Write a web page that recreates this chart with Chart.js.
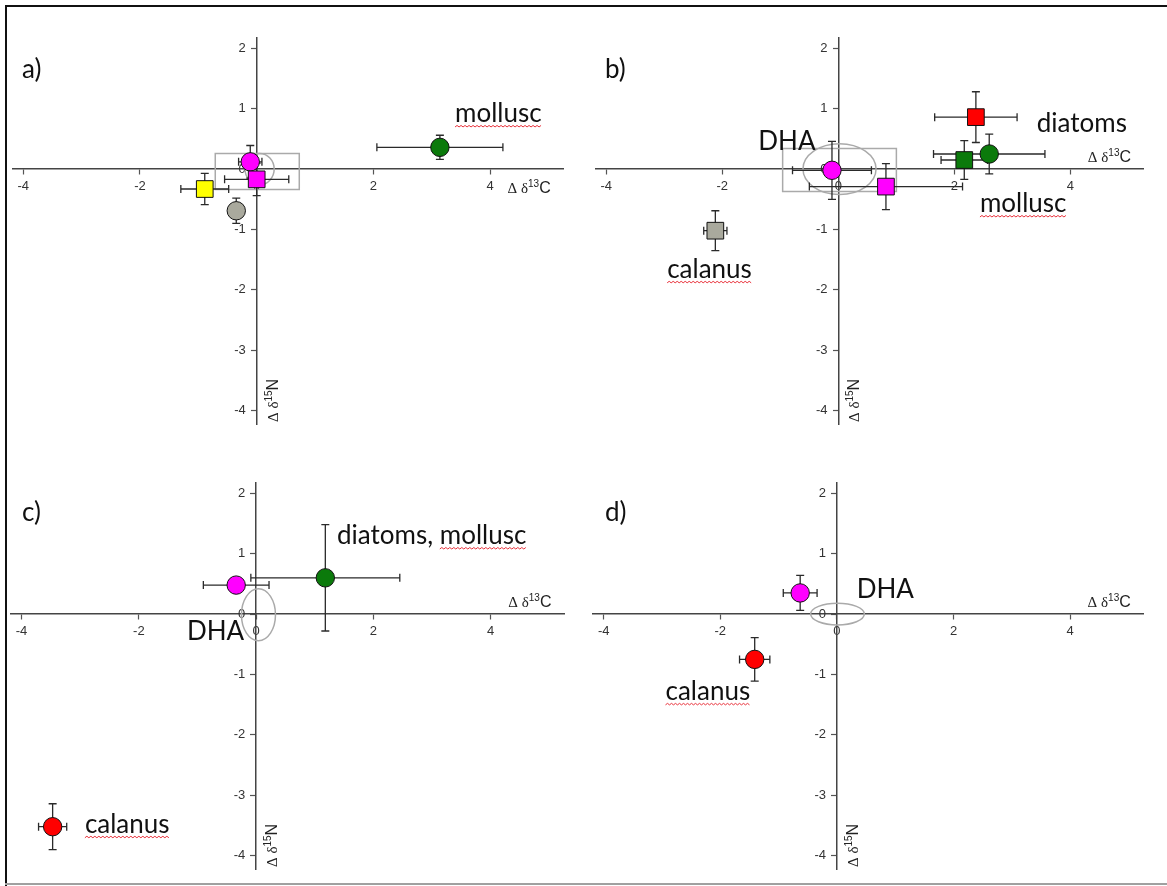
<!DOCTYPE html>
<html><head><meta charset="utf-8">
<script src="https://cdn.jsdelivr.net/npm/chart.js@4.4.1/dist/chart.umd.min.js"></script>
<style>
html,body{margin:0;padding:0;background:#fff;}
#page{position:relative;width:1167px;height:886px;overflow:hidden;background:#fff;}
canvas{position:absolute;}
.frame{position:absolute;}
</style></head><body>
<div id="page">
 <div class="frame" style="left:5px;top:5px;width:1162px;height:2px;background:#111"></div>
 <div class="frame" style="left:5px;top:5px;width:2px;height:881px;background:#111"></div>
 <div class="frame" style="left:5px;top:883px;width:1162px;height:2px;background:#a0a0a0"></div>
 <canvas id="ca" width="583" height="443" style="left:0;top:0"></canvas>
 <canvas id="cb" width="584" height="443" style="left:583px;top:0"></canvas>
 <canvas id="cc" width="583" height="443" style="left:0;top:443px"></canvas>
 <canvas id="cd" width="584" height="443" style="left:583px;top:443px"></canvas>
</div>
<script>
// ---------- tick labels ----------
const xTickValues = [-4, -2, 0, 2, 4];
const yTickValues = [2, 1, 0, -1, -2, -3, -4];

// ---------- panel a ----------
const aNames = ['mollusc', 'yellow square', 'grey circle', 'magenta circle', 'magenta square'];
const aX    = [3.14, -0.89, -0.35, -0.11, 0.00];
const aY    = [0.36, -0.33, -0.69, 0.12, -0.17];
const aXErr = [1.08, 0.41, 0.08, 0.20, 0.55];
const aYErr = [0.20, 0.26, 0.21, 0.27, 0.27];

// ---------- panel b ----------
const bNames = ['diatoms', 'green square', 'mollusc', 'DHA circle', 'DHA square', 'calanus'];
const bX    = [2.37, 2.17, 2.60, -0.11, 0.82, -2.12];
const bY    = [0.86, 0.15, 0.25, -0.02, -0.29, -1.02];
const bXErr = [0.71, 0.40, 0.96, 0.68, 1.32, 0.20];
const bYErr = [0.42, 0.32, 0.33, 0.48, 0.38, 0.33];

// ---------- panel c ----------
const cNames = ['diatoms, mollusc', 'DHA', 'calanus'];
const cX    = [1.18, -0.34, -3.47];
const cY    = [0.60, 0.48, -3.52];
const cXErr = [1.27, 0.56, 0.24];
const cYErr = [0.88, 0.05, 0.38];

// ---------- panel d ----------
const dNames = ['DHA', 'calanus'];
const dX    = [-0.63, -1.41];
const dY    = [0.35, -0.75];
const dXErr = [0.29, 0.26];
const dYErr = [0.29, 0.36];

// ---------- styles (kept apart from data) ----------
const GREEN = '#0b7a0b', GREY = '#a9a99d', MAG = '#ff00ff', RED = '#ff0000', YEL = '#ffff00';
const aStyle = {colors:[GREEN, YEL, GREY, MAG, MAG], shapes:['circle','rect','circle','circle','rect']};
const bStyle = {colors:[RED, GREEN, GREEN, MAG, MAG, GREY], shapes:['rect','rect','circle','circle','rect','rect']};
const cStyle = {colors:[GREEN, MAG, RED], shapes:['circle','circle','circle']};
const dStyle = {colors:[MAG, RED], shapes:['circle','circle']};

// annotations: [text, x, y (data coords, left/baseline), wavy underline start char index or -1]
const aNotes = [['mollusc', 3.40, 0.78, 0]];
const bNotes = [['DHA', -1.38, 0.31, -1], ['diatoms', 3.42, 0.61, -1], ['mollusc', 2.44, -0.71, 0], ['calanus', -2.95, -1.80, 0]];
const cNotes = [['diatoms, mollusc', 1.38, 1.16, 9], ['DHA', -1.18, -0.43, -1], ['calanus', -2.92, -3.62, 0]];
const dNotes = [['DHA', 0.34, 0.26, -1], ['calanus', -2.94, -1.42, 0]];

// grey outline shapes (data coords)
const aShapes = [{t:'rect', x0:-0.71, x1:0.73, y0:-0.34, y1:0.26}, {t:'ell', cx:0.05, cy:0.0, rx:0.25, ry:0.26}];
const bShapes = [{t:'rect', x0:-0.96, x1:1.0, y0:-0.37, y1:0.34}, {t:'ell', cx:0.02, cy:0.0, rx:0.63, ry:0.42}];
const cShapes = [{t:'ell', cx:0.04, cy:-0.01, rx:0.29, ry:0.43}];
const dShapes = [{t:'ell', cx:0.01, cy:0.0, rx:0.46, ry:0.18}];

const LABEL_FONT = 'Lato, "Open Sans", sans-serif';

function drawDeltaTitle(ctx, x, y, sup, letter) {
  ctx.save();
  ctx.fillStyle = '#222';
  ctx.textBaseline = 'alphabetic';
  ctx.textAlign = 'left';
  ctx.font = '15px "Liberation Serif", serif';
  ctx.fillText('\u0394 \u03b4', x, y);
  let w = ctx.measureText('\u0394 \u03b4').width;
  ctx.font = '10px "Liberation Sans", Arial, sans-serif';
  ctx.fillText(sup, x + w, y - 6);
  w += ctx.measureText(sup).width;
  ctx.font = '16px "Liberation Sans", Arial, sans-serif';
  ctx.fillText(letter, x + w, y);
  ctx.restore();
}

function wavy(ctx, x0, x1, y) {
  ctx.save();
  ctx.strokeStyle = '#e8303a';
  ctx.lineWidth = 1;
  ctx.beginPath();
  let up = true;
  ctx.moveTo(x0, y);
  for (let x = x0 + 2; x <= x1; x += 2) {
    ctx.lineTo(x, up ? y - 1.5 : y);
    up = !up;
  }
  ctx.stroke();
  ctx.restore();
}

function makeOverlay(letter, xs, ys, xe, ye, notes, shapes, titleBelow) {
  return {
    id: 'overlay' + letter,
    beforeDatasetsDraw(chart) {
      const {ctx, scales: {x, y}} = chart;
      ctx.save();
      ctx.strokeStyle = '#aaaaaa';
      ctx.lineWidth = 1.5;
      shapes.forEach(s => {
        ctx.beginPath();
        if (s.t === 'rect') {
          const px0 = x.getPixelForValue(s.x0), px1 = x.getPixelForValue(s.x1);
          const py0 = y.getPixelForValue(s.y0), py1 = y.getPixelForValue(s.y1);
          ctx.rect(px0, py1, px1 - px0, py0 - py1);
        } else {
          const cx = x.getPixelForValue(s.cx), cy = y.getPixelForValue(s.cy);
          const rx = Math.abs(x.getPixelForValue(s.cx + s.rx) - cx);
          const ry = Math.abs(y.getPixelForValue(s.cy + s.ry) - cy);
          ctx.ellipse(cx, cy, rx, ry, 0, 0, Math.PI * 2);
        }
        ctx.stroke();
      });
      // error bars
      ctx.strokeStyle = '#2a2a2a';
      ctx.lineWidth = 1.3;
      const cap = 4;
      for (let i = 0; i < xs.length; i++) {
        const px = x.getPixelForValue(xs[i]), py = y.getPixelForValue(ys[i]);
        const xl = x.getPixelForValue(xs[i] - xe[i]), xr = x.getPixelForValue(xs[i] + xe[i]);
        const yt = y.getPixelForValue(ys[i] + ye[i]), yb = y.getPixelForValue(ys[i] - ye[i]);
        ctx.beginPath();
        ctx.moveTo(xl, py); ctx.lineTo(xr, py);
        ctx.moveTo(xl, py - cap); ctx.lineTo(xl, py + cap);
        ctx.moveTo(xr, py - cap); ctx.lineTo(xr, py + cap);
        ctx.moveTo(px, yt); ctx.lineTo(px, yb);
        ctx.moveTo(px - cap, yt); ctx.lineTo(px + cap, yt);
        ctx.moveTo(px - cap, yb); ctx.lineTo(px + cap, yb);
        ctx.stroke();
      }
      ctx.restore();
    },
    afterDatasetsDraw(chart) {
      const {ctx, scales: {x, y}, chartArea} = chart;
      const ox = x.getPixelForValue(0), oy = y.getPixelForValue(0);
      ctx.save();
      // panel letter
      ctx.fillStyle = '#111';
      ctx.font = '26px ' + LABEL_FONT;
      ctx.textBaseline = 'alphabetic';
      ctx.textAlign = 'left';
      ctx.fillText(letter + ')', 22, 78);
      // annotations
      ctx.font = '26px ' + LABEL_FONT;
      notes.forEach(n => {
        const tx = x.getPixelForValue(n[1]), ty = y.getPixelForValue(n[2]);
        ctx.fillStyle = '#111';
        ctx.fillText(n[0], tx, ty);
        if (n[3] >= 0) {
          const pre = ctx.measureText(n[0].slice(0, n[3])).width;
          const full = ctx.measureText(n[0]).width;
          wavy(ctx, tx + pre, tx + full, ty + 5);
        }
      });
      // axis titles
      const tx = x.getPixelForValue(4.3);
      drawDeltaTitle(ctx, tx, titleBelow ? oy + 24 : oy - 7, '13', 'C');
      ctx.translate(ox + 21, chartArea.bottom - 2);
      ctx.rotate(-Math.PI / 2);
      drawDeltaTitle(ctx, 0, 0, '15', 'N');
      ctx.restore();
    }
  };
}

function makeChart(id, letter, xs, ys, xe, ye, names, style, notes, shapes, pad, titleBelow) {
  const pts = xs.map((v, i) => ({x: v, y: ys[i]}));
  const radii = style.shapes.map(s => s === 'rect' ? 11.8 : 9.2);
  return new Chart(document.getElementById(id), {
    type: 'scatter',
    data: {
      datasets: [{
        label: names.join(', '),
        data: pts,
        pointStyle: style.shapes,
        pointRadius: radii,
        pointHoverRadius: radii,
        backgroundColor: style.colors,
        borderColor: '#111',
        borderWidth: 1
      }]
    },
    options: {
      responsive: false,
      animation: false,
      events: [],
      layout: {padding: pad},
      plugins: {legend: {display: false}, tooltip: {enabled: false}},
      scales: {
        x: {
          type: 'linear', min: -4.18, max: 5.25, position: {y: 0},
          afterBuildTicks: s => { s.ticks = xTickValues.map(v => ({value: v})); },
          ticks: {font: {family: '"Liberation Sans", Arial, sans-serif', size: 13}, color: '#333', padding: 5, maxRotation: 0, autoSkip: false},
          grid: {drawOnChartArea: false, drawTicks: true, tickLength: 5, tickColor: '#555', tickWidth: 1.2},
          border: {display: true, color: '#444', width: 1.5}
        },
        y: {
          type: 'linear', min: -4.22, max: 2.17, position: {x: 0},
          afterBuildTicks: s => { s.ticks = yTickValues.map(v => ({value: v})); },
          ticks: {font: {family: '"Liberation Sans", Arial, sans-serif', size: 13}, color: '#333', padding: 5, autoSkip: false,
                  callback: v => v + '   '},
          grid: {drawOnChartArea: false, drawTicks: true, tickLength: 5, tickColor: '#555', tickWidth: 1.2},
          border: {display: true, color: '#444', width: 1.5}
        }
      }
    },
    plugins: [makeOverlay(letter, xs, ys, xe, ye, notes, shapes, titleBelow)]
  });
}

makeChart('ca', 'a', aX, aY, aXErr, aYErr, aNames, aStyle, aNotes, aShapes, {left: 9, top: 38, right: 20, bottom: 19}, true);
makeChart('cb', 'b', bX, bY, bXErr, bYErr, bNames, bStyle, bNotes, bShapes, {left: 7, top: 38, right: 24, bottom: 19}, false);
makeChart('cc', 'c', cX, cY, cXErr, cYErr, cNames, cStyle, cNotes, cShapes, {left: 11, top: 40, right: 19, bottom: 17}, false);
makeChart('cd', 'd', dX, dY, dXErr, dYErr, dNames, dStyle, dNotes, dShapes, {left: 7, top: 40, right: 24, bottom: 17}, false);
</script>
</body></html>
